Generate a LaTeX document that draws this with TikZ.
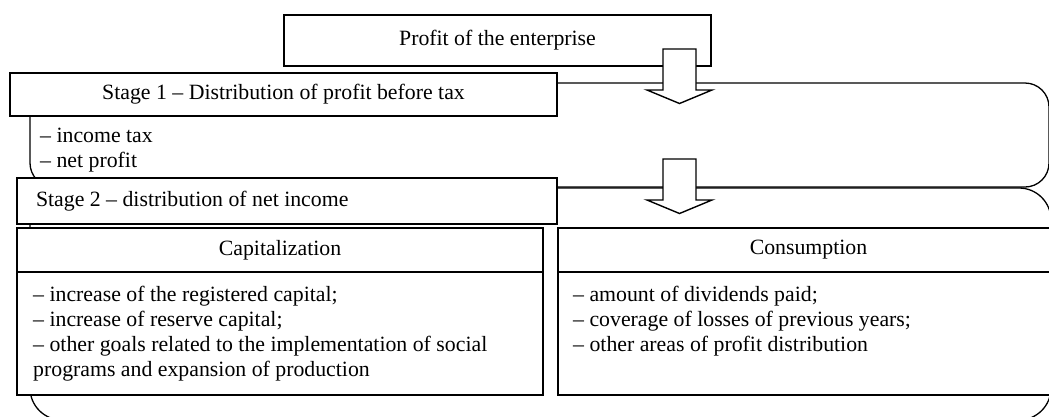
\documentclass[tikz,border=0pt]{standalone}
\usepackage{fontspec}
\setmainfont{Liberation Serif}
\usetikzlibrary{positioning}

\tikzset{
  box/.style={draw=black, fill=white, line width=1.6pt, inner sep=0pt, outer sep=0pt},
  stageframe/.style={draw=black, line width=1.3pt},
  blockarr/.style={draw=black, fill=white, line width=1.4pt, line join=miter},
  listtext/.style={anchor=north west, inner sep=0pt, align=left},
}

\begin{document}
\begin{tikzpicture}[x=1pt, y=-1pt, font=\fontsize{21.8pt}{25pt}\selectfont]
  \fill[white] (0,0) rectangle (1049,416);
  \useasboundingbox (0,0) rectangle (1049,416);
  \clip (0,0) rectangle (1049,416);

  % rounded frames behind the two stages
  \draw[stageframe, rounded corners=32pt] (30,188) rectangle (1051,420);
  \draw[stageframe, rounded corners=24pt] (30,83) rectangle (1049,187);

  \node[box, minimum width=427pt, minimum height=51pt] (profit) at (497.5,40.5) {Profit of the enterprise};
  \node[box, minimum width=547pt, minimum height=43pt] (stage1) at (283.5,94.5) {Stage 1 -- Distribution of profit before tax};
  \node[listtext, shift={(30,12)}] (tax) at (stage1.south west) {-- income tax\\-- net profit};
  \node[box, minimum width=540pt, minimum height=46pt, text width=502pt, align=flush left] (stage2) at (287,201) {Stage 2 -- distribution of net income};

  \node[box, minimum width=526pt, minimum height=44pt] (caphead) at (280,250) {Capitalization};
  \node[box, minimum width=526pt, minimum height=123pt, below=0pt of caphead] (capbody) {};
  \node[box, minimum width=501pt, minimum height=44pt, right=15pt of caphead] (conhead) {Consumption};
  \node[box, minimum width=501pt, minimum height=123pt, below=0pt of conhead] (conbody) {};

  \node[listtext, shift={(16,14)}] (caplist) at (capbody.north west) {-- increase of the registered capital;\\-- increase of reserve capital;\\-- other goals related to the implementation of social\\programs and expansion of production};
  \node[listtext, shift={(15,14)}] (conlist) at (conbody.north west) {-- amount of dividends paid;\\-- coverage of losses of previous years;\\-- other areas of profit distribution};

  % block arrows between the stages
  \coordinate (arr1) at (679.5,49);
  \coordinate (arr2) at (679.5,159);
  \foreach \a in {arr1,arr2}
    \draw[blockarr] (\a) -- ++(16.5,0) -- ++(0,41) -- ++(16,0) -- ++(-32.5,13.5) -- ++(-32.5,-13.5) -- ++(16,0) -- ++(0,-41) -- cycle;
\end{tikzpicture}
\end{document}
